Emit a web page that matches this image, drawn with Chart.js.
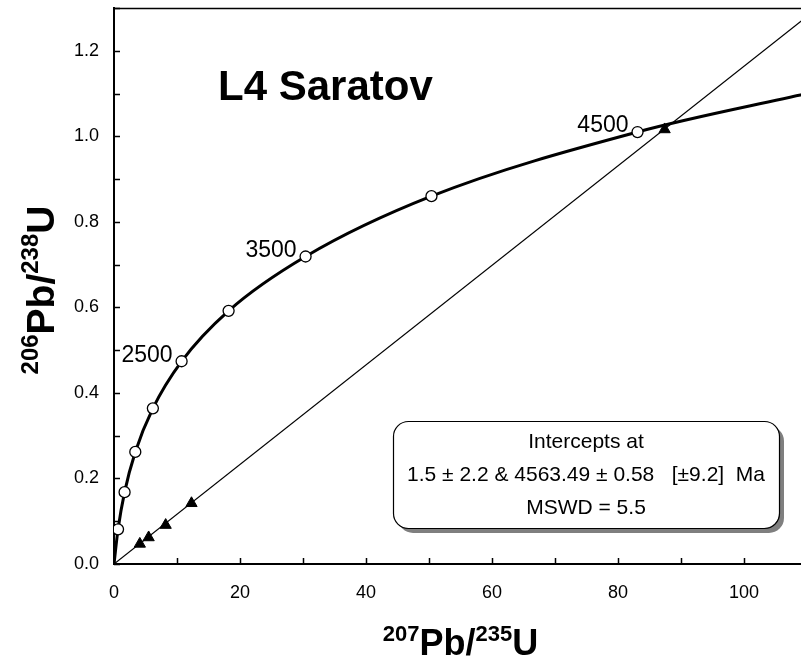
<!DOCTYPE html>
<html><head><meta charset="utf-8">
<script src="https://cdn.jsdelivr.net/npm/chart.js@4/dist/chart.umd.min.js"></script>
<style>html,body{margin:0;padding:0;overflow:hidden;background:#fff}#wrap{width:820px;height:666px}</style>
</head><body><div id="wrap"><canvas id="c" width="820" height="666"></canvas></div>
<script>
// Concordia curve: ages (Ma) and ratios (start at origin, end at right edge)
const concordiaAges = [0, 500, 1000, 1500, 2000, 2500, 3000, 3500, 4000, 4500, 4780];
const concordiaX = [0, 0.64, 1.68, 3.38, 6.17, 10.73, 18.19, 30.41, 50.39, 83.10, 110];
const concordiaY = [0, 0.081, 0.168, 0.262, 0.364, 0.474, 0.592, 0.719, 0.860, 1.010, 1.100];
const markerAges = [500, 1000, 1500, 2000, 2500, 3000, 3500, 4000, 4500];
const labeledAges = [2500, 3500, 4500];
// Discordia line
const discordiaX = [0, 110];
const discordiaY = [0, 1.28];
// Analyses (filled triangles)
const sampleX = [4.1, 5.5, 8.2, 12.3, 87.4];
const sampleY = [0.047, 0.062, 0.091, 0.142, 1.016];
// Axes
const xTickLabels = [0, 20, 40, 60, 80, 100];
const yTickLabels = [0.0, 0.2, 0.4, 0.6, 0.8, 1.0, 1.2];
const xTickMarks = [0, 10, 20, 30, 40, 50, 60, 70, 80, 90, 100, 110];
const yTickMarks = [0.0, 0.1, 0.2, 0.3, 0.4, 0.5, 0.6, 0.7, 0.8, 0.9, 1.0, 1.1, 1.2, 1.3];
const titleText = 'L4 Saratov';
const boxLines = ['Intercepts at', '1.5 \u00b1 2.2 & 4563.49 \u00b1 0.58   [\u00b19.2]  Ma', 'MSWD = 5.5'];

const FONT = '"Liberation Sans", Arial, Helvetica, sans-serif';

const markerIdx = concordiaAges.map((a, i) => markerAges.includes(a) ? i : -1).filter(i => i >= 0);

function drawSup(ctx, parts, cx, baseY, big, small) {
  let w = 0;
  parts.forEach(p => { ctx.font = 'bold ' + (p.sup ? small : big) + 'px ' + FONT; p.w = ctx.measureText(p.t).width; w += p.w; });
  let x = cx - w / 2;
  ctx.textAlign = 'left';
  ctx.textBaseline = 'alphabetic';
  parts.forEach(p => {
    ctx.font = 'bold ' + (p.sup ? small : big) + 'px ' + FONT;
    ctx.fillText(p.t, x, p.sup ? baseY - big * 0.40 : baseY);
    x += p.w;
  });
}

const decor = {
  id: 'decor',
  afterDraw(chart) {
    const ctx = chart.ctx, ca = chart.chartArea, xs = chart.scales.x, ys = chart.scales.y;
    ctx.save();
    ctx.strokeStyle = '#000';
    ctx.fillStyle = '#000';
    // top and right frame
    ctx.lineWidth = 1.5;
    ctx.beginPath();
    ctx.moveTo(ca.left, ca.top + 0.5); ctx.lineTo(ca.right, ca.top + 0.5);
    ctx.lineTo(ca.right, ca.bottom);
    ctx.stroke();
    // inward tick marks
    ctx.lineWidth = 1.5;
    ctx.beginPath();
    xTickMarks.forEach(v => { const p = Math.round(xs.getPixelForValue(v)) + 0.5; ctx.moveTo(p, ca.bottom); ctx.lineTo(p, ca.bottom - 6); });
    yTickMarks.forEach(v => { const p = Math.round(ys.getPixelForValue(v)) + 0.5; ctx.moveTo(ca.left, p); ctx.lineTo(ca.left + 6, p); });
    ctx.stroke();
    // age labels
    ctx.font = '23px ' + FONT;
    ctx.textAlign = 'right';
    ctx.textBaseline = 'middle';
    labeledAges.forEach(a => {
      const i = concordiaAges.indexOf(a);
      const px = xs.getPixelForValue(concordiaX[i]), py = ys.getPixelForValue(concordiaY[i]);
      ctx.fillText(String(a), px - 9, py - 6);
    });
    // title
    ctx.font = 'bold 42px ' + FONT;
    ctx.textAlign = 'left';
    ctx.textBaseline = 'alphabetic';
    ctx.fillText(titleText, 218, 100);
    // intercept box
    const bx = 393, by = 421, bw = 386, bh = 107, r = 15;
    ctx.fillStyle = '#7f7f7f';
    ctx.beginPath(); ctx.roundRect(bx + 5, by + 5, bw, bh, r); ctx.fill();
    ctx.fillStyle = '#fff';
    ctx.beginPath(); ctx.roundRect(bx, by, bw, bh, r); ctx.fill();
    ctx.lineWidth = 1.2; ctx.strokeStyle = '#000';
    ctx.beginPath(); ctx.roundRect(bx + 0.5, by + 0.5, bw, bh, r); ctx.stroke();
    ctx.fillStyle = '#000';
    ctx.font = '21px ' + FONT;
    ctx.textAlign = 'center';
    ctx.textBaseline = 'middle';
    const cx = bx + bw / 2;
    ctx.fillText(boxLines[0], cx, 442);
    ctx.fillText(boxLines[1], cx, 475);
    ctx.fillText(boxLines[2], cx, 508);
    // axis titles
    drawSup(ctx, [{t:'207',sup:true},{t:'Pb/'},{t:'235',sup:true},{t:'U'}], (ca.left + ca.right) / 2, 655, 36, 22);
    ctx.save();
    ctx.translate(54, 290);
    ctx.rotate(-Math.PI / 2);
    drawSup(ctx, [{t:'206',sup:true},{t:'Pb/'},{t:'238',sup:true},{t:'U'}], 0, 0, 39, 24);
    ctx.restore();
    ctx.restore();
  }
};

new Chart(document.getElementById('c'), {
  type: 'scatter',
  data: {
    datasets: [
      { label: 'analyses', data: sampleX.map((x, i) => ({ x, y: sampleY[i] })),
        pointStyle: 'triangle', pointRadius: 6.5, backgroundColor: '#000', borderColor: '#000', borderWidth: 1, showLine: false },
      { label: 'age markers', data: markerIdx.map(i => ({ x: concordiaX[i], y: concordiaY[i] })),
        pointStyle: 'circle', pointRadius: 5.5, backgroundColor: '#fff', borderColor: '#000', borderWidth: 1.3, showLine: false },
      { label: 'discordia', data: discordiaX.map((x, i) => ({ x, y: discordiaY[i] })),
        showLine: true, borderColor: '#000', borderWidth: 1.2, pointRadius: 0 },
      { label: 'concordia', data: concordiaX.map((x, i) => ({ x, y: concordiaY[i] })),
        showLine: true, borderColor: '#000', borderWidth: 3, pointRadius: 0, cubicInterpolationMode: 'monotone' }
    ]
  },
  options: {
    responsive: false, animation: false, devicePixelRatio: 1,
    layout: { padding: { top: 8, right: 13, left: 0, bottom: 0 } },
    plugins: { legend: { display: false }, tooltip: { enabled: false } },
    scales: {
      x: {
        type: 'linear', min: 0, max: 110,
        grid: { display: false, drawTicks: false },
        border: { display: true, color: '#000', width: 2 },
        ticks: { color: '#000', font: { family: FONT, size: 18 }, padding: 18, maxRotation: 0, autoSkip: false,
                 callback: v => String(v) },
        afterBuildTicks: s => { s.ticks = xTickLabels.map(v => ({ value: v })); },
        afterFit: s => { s.height = 102; s.paddingLeft = 0; s.paddingRight = 0; }
      },
      y: {
        type: 'linear', min: 0, max: 1.3,
        grid: { display: false, drawTicks: false },
        border: { display: true, color: '#000', width: 2 },
        ticks: { color: '#000', font: { family: FONT, size: 18 }, padding: 15, autoSkip: false,
                 callback: v => Number(v).toFixed(1) },
        afterBuildTicks: s => { s.ticks = yTickLabels.map(v => ({ value: v })); },
        afterFit: s => { s.width = 114; s.paddingTop = 0; s.paddingBottom = 0; }
      }
    }
  },
  plugins: [decor]
});
</script></body></html>
